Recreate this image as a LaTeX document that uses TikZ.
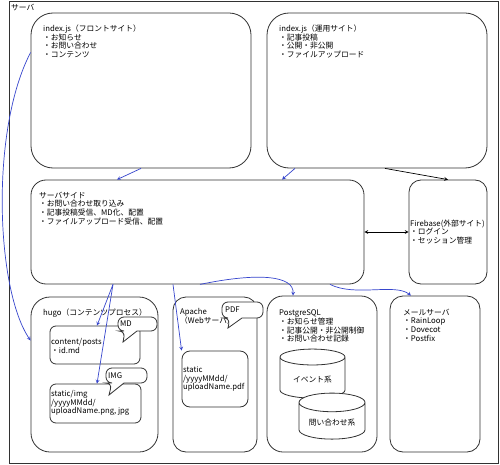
\documentclass[tikz,border=0pt]{standalone}
\usepackage{fontspec}
\setmainfont{Noto Sans CJK JP}
\usetikzlibrary{shapes.geometric, arrows}
\definecolor{edgegray}{RGB}{50,50,50}
\definecolor{linkblue}{RGB}{55,70,205}
\tikzstyle{box} = [rectangle, draw=edgegray, line width=0.8pt, fill=white]
\tikzstyle{txt} = [anchor=north west, inner sep=0pt, align=left, font=\fontsize{7.75}{8.8}\selectfont]
\tikzstyle{ltxt} = [anchor=west, inner sep=0pt, align=left, font=\fontsize{7.75}{8.8}\selectfont]
\tikzstyle{db} = [cylinder, shape border rotate=90, aspect=0.35, draw=edgegray, line width=0.8pt, fill=white, font=\fontsize{7.75}{8.8}\selectfont]
\tikzstyle{bubble} = [draw=edgegray, line width=0.8pt, fill=white]
\tikzstyle{arrow} = [thick,->,>=stealth, line width=0.7pt]
\tikzstyle{barrow} = [->,>=stealth, line width=0.7pt, draw=linkblue]

\begin{document}
\begin{tikzpicture}[x=1pt, y=-1pt]
    \useasboundingbox (0,0) rectangle (500,465);
    \node [box, minimum width=489pt, minimum height=462pt] at (253.5,232) (srv) {};
    \node [txt] at (11,4) (srvtxt) {サーバ};

    \node [box, rounded corners=22pt, minimum width=220pt, minimum height=155pt] at (141,90.5) (front) {};
    \node [txt] at (43,24.5) (fronttxt) {index.js（フロントサイト）\\・お知らせ\\・お問い合わせ\\・コンテンツ};
    \node [box, rounded corners=22pt, minimum width=220pt, minimum height=155pt] at (377,90.5) (ops) {};
    \node [txt] at (279,24.5) (opstxt) {index.js（運用サイト）\\・記事投稿\\・公開・非公開\\・ファイルアップロード};

    \node [box, rounded corners=15pt, minimum width=333pt, minimum height=104pt] at (197.5,232) (server) {};
    \node [txt] at (39,191.5) (servertxt) {サーバサイド\\・お問い合わせ取り込み\\・記事投稿受信、MD化、配置\\・ファイルアップロード受信、配置};
    \node [box, rounded corners=12pt, minimum width=78pt, minimum height=104pt] at (448,232) (fire) {};
    \node [ltxt] at (410,232) (firetxt) {Firebase(外部サイト)\\・ログイン\\・セッション管理};

    \node [box, rounded corners=19pt, minimum width=127pt, minimum height=155pt] at (94.5,374.5) (hugo) {};
    \node [txt] at (43,308.5) (hugotxt) {hugo（コンテンツプロセス）};
    \node [box, rounded corners=6pt, minimum width=90pt, minimum height=38pt] at (95,345) (posts) {};
    \node [ltxt] at (51,346) (poststxt) {content/posts\\・id.md};
    \node [box, rounded corners=6pt, minimum width=91pt, minimum height=39pt] at (95.5,403.5) (img) {};
    \node [ltxt] at (51,403) (imgtxt) {static/img\\/yyyyMMdd/\\uploadName.png, jpg};

    \node [box, rounded corners=13pt, minimum width=84pt, minimum height=155pt] at (215,374.5) (apache) {};
    \node [txt] at (180,308.5) (apachetxt) {Apache\\（Webサーバ）};
    \node [box, rounded corners=8pt, minimum width=66pt, minimum height=56pt] at (215,379) (pdf) {};
    \node [ltxt] at (183,379) (pdftxt) {static\\/yyyyMMdd/\\uploadName.pdf};

    \node [box, rounded corners=16pt, minimum width=110pt, minimum height=156pt] at (322,374) (pg) {};
    \node [txt] at (279,309.5) (pgtxt) {PostgreSQL\\・お知らせ管理\\・記事公開・非公開制御\\・お問い合わせ記録};
    \node [db, minimum width=65pt, minimum height=49pt] at (312.5,379.5) (event) {イベント系};
    \node [db, minimum width=66pt, minimum height=46pt] at (332,423) (inq) {問い合わせ系};

    \node [box, rounded corners=13pt, minimum width=90pt, minimum height=156pt] at (435,374) (mail) {};
    \node [txt] at (403,308.5) (mailtxt) {メールサーバ\\・RainLoop\\・Dovecot\\・Postfix};

    % callouts
    \draw [bubble] (125,331) -- (123,342) -- (137,331) [rounded corners=6pt] -- (157,331) -- (157,317) -- (118,317) -- (118,331) -- cycle;
    \node [ltxt] at (120,324) (mdtxt) {MD};
    \draw [bubble] (112,383) -- (109,395) -- (124,383) [rounded corners=6pt] -- (147,383) -- (147,368) -- (106,368) -- (106,383) -- cycle;
    \node [ltxt] at (108,375.5) (imgtag) {IMG};
    \draw [bubble] (230,318) -- (228,328) -- (242,318) [rounded corners=6pt] -- (263,318) -- (263,302) -- (222,302) -- (222,318) -- cycle;
    \node [ltxt] at (225,310) (pdftag) {PDF};

    % connectors
    \draw [barrow] (front.south) -- ([xshift=-80.5pt]server.north);
    \draw [barrow] ([xshift=-82pt]ops.south) -- ([xshift=84.5pt]server.north);
    \draw [arrow] ([xshift=8pt]ops.south) -- (fire.north);
    \draw [arrow, <->] (server.east) -- (fire.west);
    \draw [barrow] (front.161) .. controls (-10,130) and (-4,290) .. (hugo.152);
    \draw [barrow] ([xshift=-84.5pt]server.south) -- ([xshift=2pt]posts.north);
    \draw [barrow] ([xshift=-84.5pt]server.south) -- ([xshift=1.5pt]img.north);
    \draw [barrow] ([xshift=-24.5pt]server.south) -- (pdf.north west);
    \draw [barrow] ([xshift=2.5pt]server.south) .. controls (260,272) and (294,276) .. ([xshift=-29pt]pg.north);
    \draw [barrow] ([xshift=132.5pt]server.south) .. controls (355,297) and (395,283) .. ([xshift=-24pt]mail.north);
\end{tikzpicture}
\end{document}
